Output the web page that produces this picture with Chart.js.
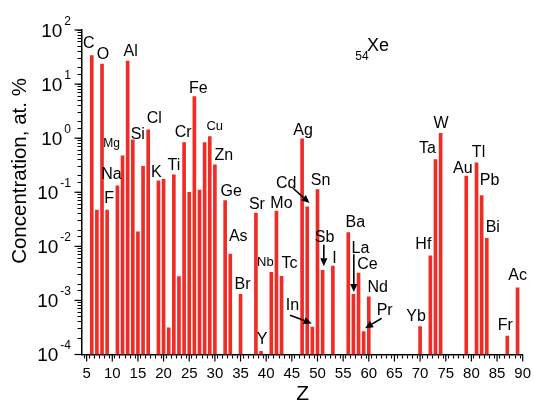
<!DOCTYPE html>
<html>
<head>
<meta charset="utf-8">
<script src="https://cdn.jsdelivr.net/npm/chart.js@4.4.1/dist/chart.umd.min.js"></script>
<style>
  html, body { margin: 0; padding: 0; background: #fff; }
  canvas { display: block; }
</style>
</head>
<body>
<canvas id="chart" width="534" height="401"></canvas>
<script>
// Impurity elements found in the xenon sample
const elements = ['C','N','O','F','Na','Mg','Al','Si','P','S','Cl','K','Ca','Sc','Ti','V','Cr','Mn','Fe','Co','Ni','Cu','Zn',
  'Ge','As','Br','Sr','Y','Nb','Mo','Tc','Ag','Cd','In','Sn','Sb','I','Ba','La','Ce','Pr','Nd',
  'Yb','Hf','Ta','W','Au','Tl','Pb','Bi','Fr','Ac'];
const atomicNumbers = [6,7,8,9,11,12,13,14,15,16,17,19,20,21,22,23,24,25,26,27,28,29,30,
  32,33,35,38,39,41,42,43,47,48,49,50,51,53,56,57,58,59,60,
  70,72,73,74,79,81,82,83,87,89];
// Concentration, at. %
const concentrations = [33.5,0.047,23.5,0.047,0.132,0.47,26.7,0.93,0.0185,0.30,1.42,0.162,0.174,0.00031,0.21,0.00275,0.83,0.10,5.85,0.11,0.83,1.07,0.32,
  0.070,0.0072,0.0013,0.041,0.000115,0.0033,0.045,0.0028,0.97,0.054,0.00032,0.112,0.0036,0.0043,0.018,0.0013,0.0032,0.000265,0.00117,
  0.00033,0.0067,0.40,1.23,0.20,0.35,0.087,0.014,0.00022,0.0017];

const xTickValues = [5,10,15,20,25,30,35,40,45,50,55,60,65,70,75,80,85,90];
const yTickExponents = [2,1,0,-1,-2,-3,-4];

// Where each element symbol sits, in px relative to the top of its bar: [dx, dy, fontSize]
const labelPlacement = {
  C:[-3,-13,16], O:[1,-11,16], F:[2,-13,16], Na:[-6,-12,16], Mg:[-11,-13,12], Al:[3,-11,16],
  Si:[5,-7,16], Cl:[6,-13,16], K:[-2,-10,16], Ti:[0,-11,16], Cr:[-1,-11,16], Fe:[4,-9,16],
  Cu:[5,-11,13], Zn:[9,-11,16], Ge:[6,-10,16], As:[8,-19,16], Br:[2,-11,16], Sr:[1,-10,16],
  Y:[1,-13,16], Nb:[-6,-11,13], Mo:[5,-9,16], Tc:[8,-14,16], Ag:[1,-10,16], Cd:[-21,-24,16],
  In:[-20,-23,16], Sn:[3,-10,16], Sb:[2,-34,16], I:[1.5,-9,16], Ba:[7,-11,16], La:[7,-47,16],
  Ce:[9,-10,16], Pr:[21,-22,16], Nd:[9,-10,16], Yb:[-4,-11,16], Hf:[-7,-12,16], Ta:[-8,-12,16],
  W:[0.5,-11,16], Au:[-3.5,-9,16], Tl:[2,-12,16], Pb:[8,-16,16], Bi:[6,-12,16], Fr:[-2,-12,16],
  Ac:[0,-14,16]
};
// Pointer arrows, px relative to the bar top: [x0, y0, x1, y1] (arrow head at x1,y1)
const arrowPlacement = {
  Cd:[-14.4,-18.7,2.2,-3.7],
  In:[-22.3,-12,-0.6,-3.7],
  Sb:[1.2,-25.7,1.2,-4],
  La:[0.4,-40,0.4,-2.3],
  Pr:[18,-13.4,1.4,-3.4]
};

const BAR_RED = 'rgb(240,44,38)';
const INK = '#000';
const FONT = '"Liberation Sans", Arial, sans-serif';

function drawText(ctx, text, cx, cy, size, align) {
  ctx.font = size + 'px ' + FONT;
  ctx.textAlign = align || 'center';
  ctx.textBaseline = 'alphabetic';
  ctx.fillText(text, cx, cy + 0.36 * size);
}

function drawArrow(ctx, x0, y0, x1, y1) {
  const ang = Math.atan2(y1 - y0, x1 - x0);
  const head = 8, half = 3.6;
  const bx = x1 - head * Math.cos(ang), by = y1 - head * Math.sin(ang);
  ctx.beginPath();
  ctx.moveTo(x0, y0);
  ctx.lineTo(bx, by);
  ctx.lineWidth = 1.6;
  ctx.stroke();
  ctx.beginPath();
  ctx.moveTo(x1, y1);
  ctx.lineTo(bx + half * Math.sin(ang), by - half * Math.cos(ang));
  ctx.lineTo(bx - half * Math.sin(ang), by + half * Math.cos(ang));
  ctx.closePath();
  ctx.fill();
}

// Longer marks at the labelled (major) ticks
const majorTicks = {
  id: 'majorTicks',
  afterDraw(chart) {
    const ctx = chart.ctx;
    const a = chart.chartArea;
    const xs = chart.scales.x, ys = chart.scales.y;
    ctx.save();
    ctx.fillStyle = INK;
    xTickValues.forEach(v => ctx.fillRect(xs.getPixelForValue(v) - 0.6, a.bottom, 1.2, 7));
    yTickExponents.forEach(e => ctx.fillRect(a.left - 7, ys.getPixelForValue(Math.pow(10, e)) - 0.6, 7, 1.2));
    ctx.restore();
  }
};

const textLayer = {
  id: 'textLayer',
  afterDraw(chart) {
    const ctx = chart.ctx;
    const xs = chart.scales.x, ys = chart.scales.y;
    const area = chart.chartArea;
    ctx.save();
    ctx.fillStyle = INK;
    ctx.strokeStyle = INK;

    // x tick labels
    xTickValues.forEach(v => drawText(ctx, String(v), xs.getPixelForValue(v), area.bottom + 18.5, 15));

    // y tick labels: 10 with superscript exponent
    const rightEdge = area.left - 10.5;
    yTickExponents.forEach(e => {
      const py = ys.getPixelForValue(Math.pow(10, e));
      const expText = e < 0 ? '-' + Math.abs(e) : String(e);
      ctx.font = '12px ' + FONT;
      const w = ctx.measureText(expText).width;
      drawText(ctx, expText, rightEdge - w, py - 9.5, 12, 'left');
      drawText(ctx, '10', rightEdge - w - 2, py, 19, 'right');
    });

    // axis titles
    drawText(ctx, 'Z', (area.left + area.right) / 2 + 0.5, 392, 21);
    ctx.save();
    ctx.translate(19, 171);
    ctx.rotate(-Math.PI / 2);
    drawText(ctx, 'Concentration, at. %', 0, 0, 20.5);
    ctx.restore();

    // matrix element
    drawText(ctx, 'Xe', 378, 45, 18);
    drawText(ctx, '54', 362, 56, 12);

    // element symbols and pointer arrows
    elements.forEach((sym, i) => {
      const bx = xs.getPixelForValue(atomicNumbers[i]);
      const by = ys.getPixelForValue(concentrations[i]);
      const lp = labelPlacement[sym];
      if (lp) drawText(ctx, sym, bx + lp[0], by + lp[1], lp[2]);
      const ap = arrowPlacement[sym];
      if (ap) drawArrow(ctx, bx + ap[0], by + ap[1], bx + ap[2], by + ap[3]);
    });
    ctx.restore();
  }
};

new Chart(document.getElementById('chart'), {
  type: 'bar',
  data: {
    datasets: [{
      data: atomicNumbers.map((z, i) => ({ x: z, y: concentrations[i] })),
      backgroundColor: BAR_RED,
      borderWidth: 0,
      barThickness: 3
    }]
  },
  options: {
    responsive: false,
    animation: false,
    layout: { padding: { left: 77.5, right: 11.3, top: 30, bottom: 42.5 } },
    plugins: { legend: { display: false }, tooltip: { enabled: false } },
    scales: {
      x: {
        type: 'linear', min: 4, max: 90, offset: false,
        border: { display: true, color: INK, width: 1.5 },
        grid: { display: true, drawOnChartArea: false, drawTicks: true, tickLength: 4, tickColor: INK, tickWidth: 1.1 },
        ticks: { display: false, stepSize: 1, autoSkip: false, maxTicksLimit: 200 },
        title: { display: false }
      },
      y: {
        type: 'logarithmic', min: 1e-4, max: 100,
        border: { display: true, color: INK, width: 1.5 },
        grid: { display: true, drawOnChartArea: false, drawTicks: true, tickLength: 4, tickColor: INK, tickWidth: 1 },
        ticks: { display: false, autoSkip: false },
        title: { display: false }
      }
    }
  },
  plugins: [majorTicks, textLayer]
});
</script>
</body>
</html>
